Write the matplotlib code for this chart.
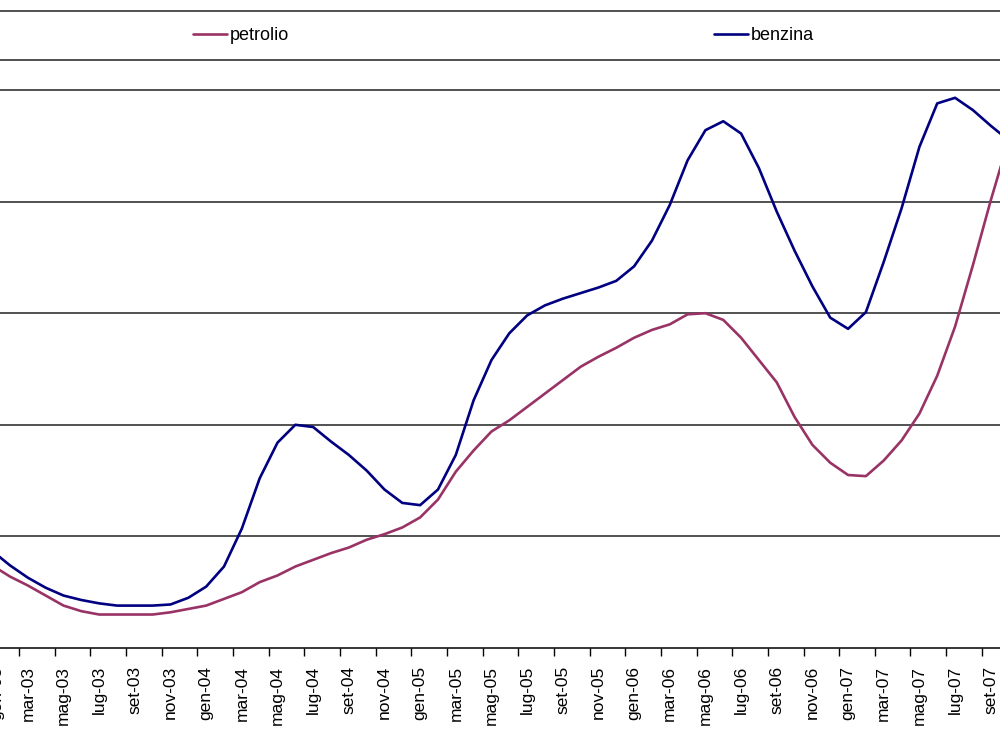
import matplotlib.pyplot as plt
from matplotlib.lines import Line2D
import numpy as np

# monthly categories, gen-03 .. ott-07
mesi = ['gen', 'feb', 'mar', 'apr', 'mag', 'giu', 'lug', 'ago', 'set', 'ott', 'nov', 'dic']
anni = ['03', '04', '05', '06', '07']
labels = [f'{m}-{a}' for a in anni for m in mesi][:58]

# values (grid units, one unit per gridline)
petrolio = [0.74, 0.64, 0.56, 0.47, 0.38, 0.33, 0.30, 0.30, 0.30, 0.30,
            0.32, 0.35, 0.38, 0.44, 0.50, 0.59, 0.65, 0.73, 0.79, 0.85,
            0.90, 0.97, 1.02, 1.08, 1.17, 1.33, 1.58, 1.77, 1.94, 2.04,
            2.16, 2.28, 2.40, 2.52, 2.61, 2.69, 2.78, 2.85, 2.90, 2.99,
            3.00, 2.94, 2.78, 2.58, 2.38, 2.07, 1.82, 1.66, 1.55, 1.54,
            1.68, 1.86, 2.10, 2.44, 2.88, 3.43, 4.01, 4.55]
benzina = [0.87, 0.74, 0.63, 0.54, 0.47, 0.43, 0.40, 0.38, 0.38, 0.38,
           0.39, 0.45, 0.55, 0.73, 1.07, 1.52, 1.84, 2.00, 1.98, 1.85,
           1.73, 1.59, 1.42, 1.30, 1.28, 1.42, 1.73, 2.22, 2.58, 2.82,
           2.98, 3.07, 3.13, 3.18, 3.23, 3.29, 3.42, 3.65, 3.97, 4.37,
           4.64, 4.72, 4.61, 4.30, 3.91, 3.56, 3.24, 2.96, 2.86, 3.01,
           3.46, 3.94, 4.49, 4.88, 4.93, 4.82, 4.68, 4.55]

plt.rcParams['font.family'] = ['Liberation Sans', 'DejaVu Sans']

fig = plt.figure(figsize=(10, 7.5), dpi=100)
ax = fig.add_axes([0, 1 - 648 / 750, 1, (648 - 90) / 750])

x = np.arange(len(labels))
l1, = ax.plot(x, petrolio, color='#993366', lw=1.9, solid_capstyle='round',
              solid_joinstyle='round')
l2, = ax.plot(x, benzina, color='#000080', lw=1.9, solid_capstyle='round',
              solid_joinstyle='round')

# gridlines
for g in range(1, 6):
    ax.axhline(g, color='#222222', lw=1.1, zorder=0, clip_on=False)

for s in ['left', 'right', 'top']:
    ax.spines[s].set_visible(False)
ax.spines['bottom'].set_color('black')
ax.spines['bottom'].set_linewidth(1.1)

ax.set_yticks([])
ax.set_xticks(np.arange(1.5, 58, 2))
ax.set_xticklabels([])
ax.tick_params(axis='x', which='major', direction='out', length=6, width=1, color='black')
ax.set_xticks(np.arange(0, 58, 2), minor=True)
ax.set_xticklabels(labels[::2], minor=True, rotation=90, fontsize=12.5, va='top')
ax.tick_params(axis='x', which='minor', length=0, pad=13)

# the picture is cropped: gen-03 sits just left of the edge
ax.set_xlim(0.4375, 56.52)
ax.set_ylim(0, 5)
ax.annotate(labels[0], xy=(0, 0), xycoords=('data', 'axes fraction'),
            xytext=(3.5, -13), textcoords='offset points', rotation=90,
            ha='center', va='top', fontsize=12.5, annotation_clip=False)

# legend band
fig.add_artist(Line2D([0, 1], [1 - 11 / 750] * 2, color='#222222', lw=1.1))
fig.add_artist(Line2D([0, 1], [1 - 60 / 750] * 2, color='#222222', lw=1.1))
fig.legend([l1, l2], ['petrolio', 'benzina'], loc='center left',
           bbox_to_anchor=(0.193, 1 - 36 / 750), ncol=2, frameon=False,
           fontsize=13, handlelength=1.9, handletextpad=0.15,
           columnspacing=23.5, borderpad=0, borderaxespad=0)

fig.savefig('out.png', dpi=100, facecolor='white')
